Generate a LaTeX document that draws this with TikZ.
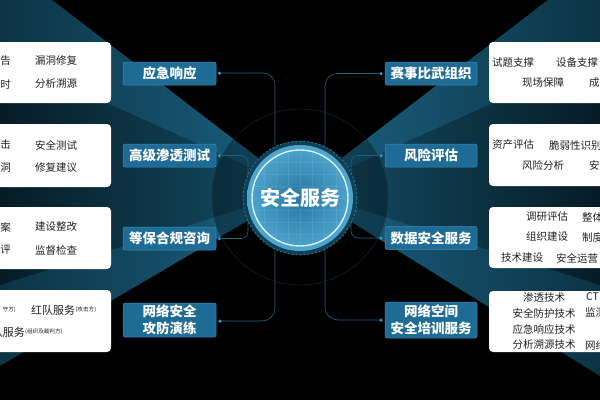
\documentclass[tikz,border=0pt]{standalone}
\usepackage{fontspec}
\setmainfont{Noto Sans CJK SC}
\usetikzlibrary{calc}
\definecolor{lblblue}{HTML}{1E6C96}
\definecolor{lblborder}{HTML}{3A8CB8}
\definecolor{connblue}{HTML}{22607F}
\definecolor{dotblue}{HTML}{3FA0D0}
\definecolor{txtgray}{HTML}{222222}
\definecolor{wedgeout}{HTML}{061C26}
\definecolor{wedgein}{HTML}{145069}
\definecolor{beamout}{HTML}{0C3345}
\definecolor{beamin}{HTML}{1B6282}
\definecolor{diskin}{HTML}{2676A2}
\definecolor{diskout}{HTML}{4FA6CF}
\definecolor{ringdash}{HTML}{2F7FA5}
\begin{document}
\begin{tikzpicture}[x=1pt,y=-1pt,
  lbl/.style={fill=lblblue, draw=lblborder, line width=0.5pt, rounded corners=2pt, text=white,
    font=\fontsize{13.5}{16}\selectfont\bfseries, minimum width=93pt, minimum height=23pt, inner sep=0pt, align=center},
  card/.style={fill=white, rounded corners=4pt, inner sep=0pt},
  ct/.style={font=\fontsize{10.5}{12}\selectfont, text=txtgray, inner sep=0pt},
  tiny/.style={font=\fontsize{5.6}{7}\selectfont, text=txtgray, inner sep=0pt},
  dotn/.style={circle, fill=dotblue, inner sep=0pt, minimum size=3.5pt},
  conn/.style={draw=connblue, line width=0.6pt, rounded corners=10pt}]
\useasboundingbox (0,0) rectangle (600,400);
\clip (0,0) rectangle (600,400);
\fill[black] (0,0) rectangle (600,400);
\coordinate (V) at (300,190);
% wedges (middle zones)
\begin{scope}
\clip (V) -- (0,55) -- (0,285) -- cycle;
\shade[left color=wedgeout, right color=wedgein] (0,0) rectangle (300,400);
\end{scope}
\begin{scope}
\clip (V) -- (600,55) -- (600,285) -- cycle;
\shade[left color=wedgein, right color=wedgeout] (300,-40) rectangle (600,400);
\end{scope}
% beams
\begin{scope}
\clip (V) -- (0,-40) -- (0,55) -- cycle;
\shade[left color=beamout, right color=beamin] (0,-40) rectangle (300,400);
\end{scope}
\begin{scope}
\clip (V) -- (0,366) -- (0,285) -- cycle;
\shade[left color=beamout, right color=beamin] (0,0) rectangle (300,400);
\end{scope}
\begin{scope}
\clip (V) -- (600,-40) -- (600,55) -- cycle;
\shade[left color=beamin, right color=beamout] (300,-40) rectangle (600,400);
\end{scope}
\begin{scope}
\clip (V) -- (600,376) -- (600,285) -- cycle;
\shade[left color=beamin, right color=beamout] (300,-40) rectangle (600,400);
\end{scope}
% faint big circle
\fill[black, opacity=0.3] (300,197) circle (88);
\draw[connblue!50!black, line width=0.4pt] (300,197) circle (88);

% cards left
\node[card, minimum width=121pt, minimum height=61pt] (cl1) at (50.5,72.5) {};
\node[card, minimum width=121pt, minimum height=63pt] (cl2) at (50.5,155.5) {};
\node[card, minimum width=121pt, minimum height=62pt] (cl3) at (50.5,238) {};
\node[card, minimum width=121pt, minimum height=62pt] (cl4) at (50.5,321) {};
% cards right
\node[card, minimum width=121pt, minimum height=61pt] (cr1) at (549.5,72.5) {};
\node[card, minimum width=121pt, minimum height=62pt] (cr2) at (549.5,155) {};
\node[card, minimum width=121pt, minimum height=61pt] (cr3) at (549.5,237.5) {};
\node[card, minimum width=121pt, minimum height=61pt] (cr4) at (549.5,321.5) {};

% card texts left
\node[ct, anchor=east] (t1a) at (11,61) {告};
\node[ct, anchor=west] (t1b) at (35,61) {漏洞修复};
\node[ct, anchor=east] (t1c) at (11,84) {时};
\node[ct, anchor=west] (t1d) at (35,84) {分析溯源};
\node[ct, anchor=east] (t2a) at (11,145) {击};
\node[ct, anchor=west] (t2b) at (35,145) {安全测试};
\node[ct, anchor=east] (t2c) at (11,168) {洞};
\node[ct, anchor=west] (t2d) at (35,168) {修复建议};
\node[ct, anchor=east] (t3a) at (11,227) {案};
\node[ct, anchor=west] (t3b) at (35,227) {建设整改};
\node[ct, anchor=east] (t3c) at (11,250) {评};
\node[ct, anchor=west] (t3d) at (35,250) {监督检查};
\node[tiny, anchor=east] (t4a) at (16,310) {守方)};
\node[ct, anchor=west, font=\fontsize{11}{13}\selectfont] (t4b) at (31,310) {红队服务};
\node[tiny, anchor=west] (t4c) at (t4b.east) {(攻击方)};
\node[ct, anchor=east, font=\fontsize{11}{13}\selectfont] (t4d) at (25,332) {队服务};
\node[tiny, anchor=west] (t4e) at (t4d.east) {(组织及裁判方)};

% card texts right
\node[ct, anchor=west] (r1a) at (492,63) {试题支撑};
\node[ct, anchor=west] (r1b) at (556,63) {设备支撑};
\node[ct, anchor=west] (r1c) at (522,83) {现场保障};
\node[ct, anchor=west] (r1d) at (589,83) {成};
\node[ct, anchor=west] (r2a) at (492,145) {资产评估};
\node[ct, anchor=west] (r2b) at (549,145) {脆弱性识别};
\node[ct, anchor=west] (r2c) at (522,165) {风险分析};
\node[ct, anchor=west] (r2d) at (589,165) {安};
\node[ct, anchor=west] (r3a) at (526,217) {调研评估};
\node[ct, anchor=west] (r3b) at (582,217) {整体};
\node[ct, anchor=west] (r3c) at (526,237) {组织建设};
\node[ct, anchor=west] (r3d) at (582,237) {制度};
\node[ct, anchor=west] (r3e) at (501,258) {技术建设};
\node[ct, anchor=west] (r3f) at (556,258) {安全运营};
\node[ct] (r4a) at (544,297) {渗透技术};
\node[ct, anchor=west] (r4b) at (586,297) {CT};
\node[ct] (r4c) at (544,313) {安全防护技术};
\node[ct, anchor=west] (r4d) at (585,313) {监测};
\node[ct] (r4e) at (544,329) {应急响应技术};
\node[ct] (r4g) at (544,345) {分析溯源技术};
\node[ct, anchor=west] (r4h) at (585,345) {网络};

% labels
\node[lbl] (l1) at (169.5,73.5) {应急响应};
\node[lbl] (l2) at (169.5,155.5) {高级渗透测试};
\node[lbl] (l3) at (169.5,238.5) {等保合规咨询};
\node[lbl, minimum height=34pt, font=\fontsize{13.5}{16.5}\selectfont\bfseries] (l4) at (169.5,320) {网络安全\\攻防演练};
\node[lbl, minimum width=92pt] (r1) at (431,73.5) {赛事比武组织};
\node[lbl, minimum width=92pt] (r2) at (431,155.5) {风险评估};
\node[lbl, minimum width=92pt] (r3) at (431,238) {数据安全服务};
\node[lbl, minimum width=92pt, minimum height=36pt, font=\fontsize{13.5}{16.5}\selectfont\bfseries] (r4) at (431,320) {网络空间\\安全培训服务};

% dots
\node[dotn] (dl1) at (219.5,73) {};
\node[dotn] (dl2) at (219.5,155.5) {};
\node[dotn] (dl3) at (219.5,238.5) {};
\node[dotn] (dl4) at (220,321) {};
\node[dotn] (dr1) at (381,73.5) {};
\node[dotn] (dr2) at (381,155.5) {};
\node[dotn] (dr3) at (381,238) {};
\node[dotn] (dr4) at (381,320) {};

% connector ends
\coordinate (el1) at (275,165);
\coordinate (el4) at (275,230);
\coordinate (er1) at (325,165);
\coordinate (er4) at (325,230);
\draw[conn, rounded corners=12pt] (dl1.center) -- (275,73) -- (el1);
\draw[conn, rounded corners=7pt] (dl2.center) -- (248,155.5) -- (248,238.5) -- (dl3.center);
\draw[conn, rounded corners=13pt] (dl4.center) -- (275,321) -- (el4);
\draw[conn, rounded corners=12pt] (dr1.center) -- (325,73.5) -- (er1);
\draw[conn, rounded corners=7pt] (dr2.center) -- (351,155.5) -- (351,238) -- (dr3.center);
\draw[conn, rounded corners=13pt] (dr4.center) -- (325,320) -- (er4);

% hub
\fill[wedgein!80!black] (300,198) circle (57);
\draw[ringdash, line width=0.7pt, dash pattern=on 2pt off 2pt] (300,198) circle (57);
\node[circle, minimum size=106pt, inner sep=0pt, shade, inner color=diskin, outer color=diskout] (hubdisk) at (300,198) {};
\begin{scope}
\clip (300,198) circle (47);
\foreach \k in {-48,-36,...,48} {
  \draw[white, opacity=0.08, line width=0.4pt] (300+\k,146) -- (300+\k,250);
  \draw[white, opacity=0.08, line width=0.4pt] (250,198+\k) -- (350,198+\k);
}
\end{scope}
\draw[white!85!cyan, line width=1.4pt] (300,198) circle (48);
\node[text=white, font=\fontsize{20}{24}\selectfont\bfseries, inner sep=0pt] (hub) at (300,198) {安全服务};
\end{tikzpicture}
\end{document}
